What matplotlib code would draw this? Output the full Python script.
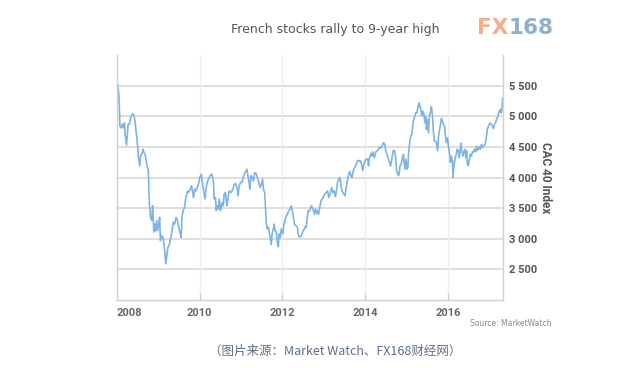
import matplotlib.pyplot as plt

# CAC 40 readings (decimal year, index level)
years = [2008.00, 2008.02, 2008.05, 2008.07, 2008.10, 2008.13, 2008.15, 2008.18, 2008.20, 2008.23,
         2008.27, 2008.30, 2008.33, 2008.37, 2008.40, 2008.43, 2008.47, 2008.50, 2008.52, 2008.55,
         2008.57, 2008.60, 2008.63, 2008.65, 2008.68, 2008.72, 2008.74, 2008.76, 2008.77, 2008.79,
         2008.81, 2008.84, 2008.86, 2008.89, 2008.91, 2008.93, 2008.96, 2008.98, 2009.01, 2009.03,
         2009.05, 2009.08, 2009.11, 2009.14, 2009.16, 2009.18, 2009.21, 2009.23, 2009.26, 2009.30,
         2009.33, 2009.36, 2009.39, 2009.43, 2009.46, 2009.49, 2009.52, 2009.55, 2009.57, 2009.60,
         2009.63, 2009.66, 2009.68, 2009.71, 2009.74, 2009.77, 2009.80, 2009.83, 2009.85, 2009.88,
         2009.91, 2009.94, 2009.97, 2010.00, 2010.04, 2010.07, 2010.10, 2010.13, 2010.15, 2010.18,
         2010.21,
         2010.25, 2010.29, 2010.33, 2010.35, 2010.38, 2010.40, 2010.42, 2010.45, 2010.47, 2010.50,
         2010.52, 2010.54, 2010.57, 2010.59, 2010.62, 2010.64, 2010.66, 2010.69, 2010.71, 2010.75,
         2010.78, 2010.81, 2010.84, 2010.87, 2010.91, 2010.93, 2010.95, 2010.99, 2011.02, 2011.05,
         2011.08, 2011.12, 2011.14, 2011.16, 2011.20, 2011.21, 2011.24, 2011.27, 2011.30, 2011.33,
         2011.37, 2011.40, 2011.43, 2011.46, 2011.49, 2011.52, 2011.54, 2011.57, 2011.59, 2011.61,
         2011.63, 2011.66, 2011.68, 2011.70, 2011.73, 2011.75, 2011.78, 2011.80, 2011.82, 2011.85,
         2011.87, 2011.90, 2011.92, 2011.95, 2011.97, 2012.01, 2012.03, 2012.06, 2012.09, 2012.12,
         2012.15, 2012.19, 2012.21, 2012.24, 2012.26, 2012.29, 2012.32, 2012.36, 2012.38, 2012.40,
         2012.44, 2012.47, 2012.50, 2012.53,
         2012.54, 2012.57, 2012.60, 2012.62, 2012.65, 2012.67, 2012.70, 2012.73, 2012.75, 2012.77,
         2012.80, 2012.82, 2012.85, 2012.87, 2012.90, 2012.93, 2012.96, 2012.99, 2013.02, 2013.06,
         2013.09, 2013.12, 2013.15, 2013.19, 2013.22, 2013.25, 2013.28, 2013.31, 2013.33, 2013.36,
         2013.39, 2013.41, 2013.44, 2013.48, 2013.51, 2013.54, 2013.57, 2013.60, 2013.63, 2013.65,
         2013.68, 2013.71, 2013.74, 2013.77, 2013.81, 2013.84, 2013.87, 2013.89, 2013.92, 2013.94,
         2013.97, 2013.99, 2014.02, 2014.06, 2014.08, 2014.10, 2014.14, 2014.16, 2014.18, 2014.22,
         2014.25, 2014.28, 2014.31, 2014.34, 2014.38, 2014.41, 2014.44, 2014.47, 2014.49, 2014.51,
         2014.54, 2014.56, 2014.59, 2014.61, 2014.63, 2014.66, 2014.68, 2014.71, 2014.74, 2014.76,
         2014.80, 2014.82, 2014.84,
         2014.87, 2014.89, 2014.92, 2014.94, 2014.96, 2014.98, 2015.01, 2015.03, 2015.05, 2015.08,
         2015.10, 2015.13, 2015.15, 2015.17, 2015.20, 2015.22, 2015.25, 2015.27, 2015.30, 2015.32,
         2015.34, 2015.37, 2015.39, 2015.42, 2015.44, 2015.46, 2015.48, 2015.50, 2015.53, 2015.55,
         2015.58, 2015.60, 2015.63, 2015.65, 2015.67, 2015.70, 2015.72, 2015.75, 2015.77, 2015.79,
         2015.82, 2015.84, 2015.87, 2015.89, 2015.92, 2015.94, 2015.96, 2015.99, 2016.01, 2016.04,
         2016.06, 2016.08, 2016.11, 2016.12, 2016.15, 2016.17, 2016.20, 2016.22, 2016.25, 2016.27,
         2016.29, 2016.31, 2016.33, 2016.36, 2016.38, 2016.41, 2016.43, 2016.45, 2016.47, 2016.49,
         2016.52, 2016.54, 2016.57, 2016.59, 2016.61, 2016.64, 2016.66, 2016.69, 2016.71, 2016.74,
         2016.76, 2016.78, 2016.81, 2016.83, 2016.86, 2016.88, 2016.90, 2016.93, 2016.95, 2016.98,
         2017.00, 2017.03, 2017.05, 2017.07, 2017.10, 2017.12, 2017.15, 2017.17, 2017.20, 2017.22,
         2017.24, 2017.27, 2017.29, 2017.31, 2017.32]

cac = [5516, 5516, 5300, 4840, 4810, 4870, 4810, 4890, 4680, 4530,
       4870, 4870, 4975, 5040, 5030, 4950, 4700, 4510, 4325, 4190,
       4350, 4380, 4460, 4410, 4380, 4220, 4160, 4110, 3780, 3510,
       3350, 3300, 3540, 3110, 3240, 3130, 3300, 3130, 3240, 3350,
       2970, 3050, 3020, 2890, 2750, 2590, 2750, 2860, 2890, 3020,
       3130, 3270, 3240, 3350, 3300, 3190, 3110, 3020, 3350, 3460,
       3510, 3650, 3700, 3780, 3760, 3810, 3865, 3760, 3675, 3810,
       3780, 3840, 3890, 4000, 4050, 3890, 3760, 3650, 3810, 3920,
       3970,
       4030, 4055, 3945, 3650, 3675, 3460, 3540, 3485, 3650, 3460,
       3510, 3590, 3540, 3730, 3755, 3620, 3540, 3700, 3780, 3755,
       3780, 3835, 3890, 3900, 3810, 3700, 3865, 3920, 3920, 4000,
       4055, 4110, 4135, 4055, 3890, 3810, 4030, 4000, 3945, 4080,
       4055, 3970, 3920, 3835, 3890, 3970, 3810, 3755, 3510, 3240,
       3160, 3190, 3110, 3020, 2905, 3080, 3160, 3240, 3130, 3110,
       2970, 2870, 3080, 3020, 3160, 3080, 3215, 3300, 3375, 3400,
       3460, 3485, 3540, 3460, 3375, 3240, 3215, 3190, 3080, 3035,
       3035, 3080, 3130, 3160,
       3190, 3180, 3350, 3460, 3450, 3485, 3540, 3485, 3460, 3400,
       3485, 3415, 3460, 3400, 3510, 3620, 3650, 3685, 3730, 3755,
       3780, 3675, 3730, 3835, 3755, 3780, 3685, 3810, 3920, 3970,
       4000, 3890, 3780, 3730, 3700, 3835, 3945, 4055, 4100, 4030,
       4000, 4110, 4160, 4190, 4270, 4280, 4260, 4270, 4190, 4110,
       4215, 4260, 4300, 4300, 4190, 4315, 4390, 4350, 4420, 4325,
       4410, 4435, 4445, 4490, 4480, 4515, 4570, 4540, 4460, 4410,
       4350, 4300, 4245, 4190, 4245, 4380, 4445, 4435, 4300, 4110,
       4030, 4055, 4190,
       4215, 4300, 4380, 4260, 4135, 4300, 4135, 4160, 4435, 4595,
       4675, 4705, 4865, 4945, 5000, 5055, 5055, 5135, 5220, 5165,
       5110, 5000, 5085, 5030, 4895, 5000, 4785, 4945, 4730, 5000,
       5085, 5155, 4975, 4730, 4595, 4595, 4570, 4435, 4650, 4760,
       4865, 4965, 4920, 4865, 4840, 4675, 4570, 4650, 4515, 4380,
       4245, 4350, 4270, 4000, 4215, 4300, 4380, 4460, 4435, 4325,
       4410, 4560, 4460, 4350, 4410, 4460, 4325, 4435, 4215, 4190,
       4300, 4380, 4350, 4420, 4410, 4460, 4420, 4515, 4435, 4480,
       4500, 4460, 4540, 4490, 4515, 4530, 4540, 4675, 4785, 4840,
       4875, 4890, 4865, 4840, 4795, 4865, 4890, 4945, 4985, 5030,
       5085, 5110, 5055, 5165, 5290]

year_ticks = [2008, 2010, 2012, 2014, 2016]
year_labels = ['2008', '2010', '2012', '2014', '2016']
index_ticks = [2500, 3000, 3500, 4000, 4500, 5000, 5500]
index_labels = ['2 500', '3 000', '3 500', '4 000', '4 500', '5 000', '5 500']

fig = plt.figure(figsize=(6.32, 3.68), dpi=100)
ax = fig.add_axes([117 / 632, 1 - 300 / 368, (503 - 117) / 632, 245 / 368])

ax.plot(years, cac, color='#7db3e6', linewidth=1.2, solid_joinstyle='round')

ax.set_xlim(2008, 2017.33)
ax.set_ylim(2000, 6000)

# grid: horizontal stronger than vertical
for v in index_ticks:
    ax.axhline(v, color='#d8d8d8', linewidth=1.2, zorder=0)
for yr in year_ticks[1:]:
    ax.axvline(yr, color='#eeeeee', linewidth=1.0, zorder=0)

for side in ['left', 'right', 'bottom']:
    ax.spines[side].set_color('#d0d0d0')
    ax.spines[side].set_linewidth(1.0)
ax.spines['top'].set_visible(False)

ax.yaxis.tick_right()
ax.set_yticks(index_ticks)
ax.set_yticklabels(index_labels, fontsize=8, fontweight='bold', color='#555555', family='Roboto')
ax.tick_params(axis='y', length=0, pad=4)
ax.yaxis.set_label_position('right')
ax.set_ylabel('CAC 40 Index', rotation=270, fontsize=8.5, fontweight='bold',
              color='#555555', labelpad=11, family='Roboto')

ax.set_xticks(year_ticks)
ax.set_xticklabels(year_labels, fontsize=8, fontweight='bold', color='#666666', family='Roboto')
ax.tick_params(axis='x', direction='in', length=5, color='#cccccc', pad=6)
ax.get_xticklabels()[0].set_horizontalalignment('left')

fig.text(335 / 632, 1 - 29 / 368, 'French stocks rally to 9-year high', ha='center', va='center',
         fontsize=9, color='#555555')
fig.text(477 / 632, 1 - 28 / 368, 'FX', ha='left', va='center', fontsize=15.5,
         fontweight='bold', color='#f4ab8e')
fig.text(509 / 632, 1 - 28 / 368, '168', ha='left', va='center', fontsize=15.5,
         fontweight='bold', color='#8db0cc')
fig.text(552 / 632, 1 - 323 / 368, 'Source: MarketWatch', ha='right', va='center',
         fontsize=5.5, color='#888888')
fig.text(335 / 632, 1 - 351 / 368, '（图片来源：Market Watch、FX168财经网）', ha='center', va='center',
         fontsize=9, color='#5d6f86', family=['Noto Sans CJK SC', 'DejaVu Sans'])

fig.savefig('out.png', dpi=100)
